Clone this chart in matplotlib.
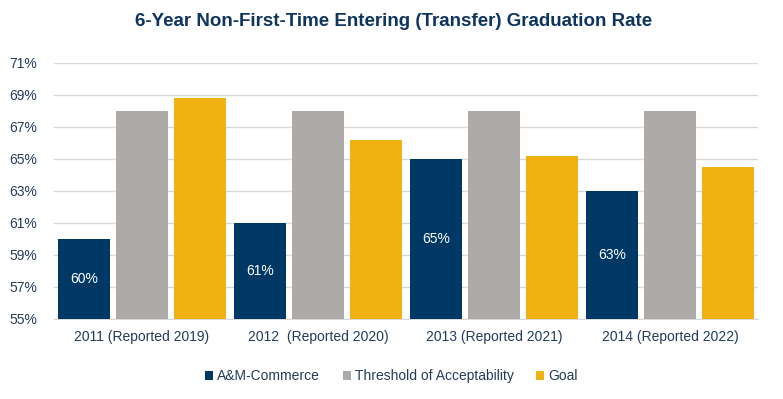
import numpy as np
import matplotlib.pyplot as plt

plt.rcParams['font.family'] = ['Liberation Sans', 'DejaVu Sans']

categories = ['2011 (Reported 2019)', '2012  (Reported 2020)', '2013 (Reported 2021)', '2014 (Reported 2022)']
am_commerce = [60, 61, 65, 63]
threshold = [68, 68, 68, 68]
goal = [68.8, 66.2, 65.2, 64.5]
yticks = [55, 57, 59, 61, 63, 65, 67, 69, 71]

navy = '#003865'
gray = '#ADAAA8'
gold = '#F0B213'
text_col = '#243B5E'
title_col = '#0E3560'

fig = plt.figure(figsize=(7.83, 3.99), dpi=100)
ax = fig.add_axes([54/783, 1-319/399, (758-54)/783, (319-63)/399])

x = np.arange(len(categories))
w = 0.298
step = 0.33
ax.bar(x - step, np.array(am_commerce) - 55, w, bottom=55, color=navy, label='A&M-Commerce', zorder=3)
ax.bar(x, np.array(threshold) - 55, w, bottom=55, color=gray, label='Threshold of Acceptability', zorder=3)
ax.bar(x + step, np.array(goal) - 55, w, bottom=55, color=gold, label='Goal', zorder=3)

for xi, v in zip(x - step, am_commerce):
    ax.text(xi, (55 + v) / 2, f'{v}%', ha='center', va='center', color='white', fontsize=10, zorder=4)

ax.set_ylim(55, 71)
ax.set_xlim(-0.5, len(categories) - 0.5)
ax.set_yticks(yticks)
ax.set_yticklabels([f'{t}%' for t in yticks])
ax.set_xticks(x)
ax.set_xticklabels(categories)
ax.tick_params(axis='both', length=0, labelsize=10, labelcolor=text_col)
ax.tick_params(axis='y', pad=12)
ax.tick_params(axis='x', pad=8)
ax.grid(axis='y', color='#D9D9D9', linewidth=1, zorder=0)
for s in ['top', 'right', 'left']:
    ax.spines[s].set_visible(False)
ax.spines['bottom'].set_color('#D9D9D9')

fig.text(0.5 + 2/783, 1 - 22/399, '6-Year Non-First-Time Entering (Transfer) Graduation Rate',
         ha='center', va='center', fontsize=13.5, fontweight='bold', color=title_col)

fig.legend(loc='center', bbox_to_anchor=(0.5, 1 - 376/399), ncol=3, frameon=False,
           fontsize=10, handlelength=0.6, handleheight=0.6, handletextpad=0.3,
           columnspacing=1.6, labelcolor=text_col)

fig.savefig('out.png', dpi=100)
